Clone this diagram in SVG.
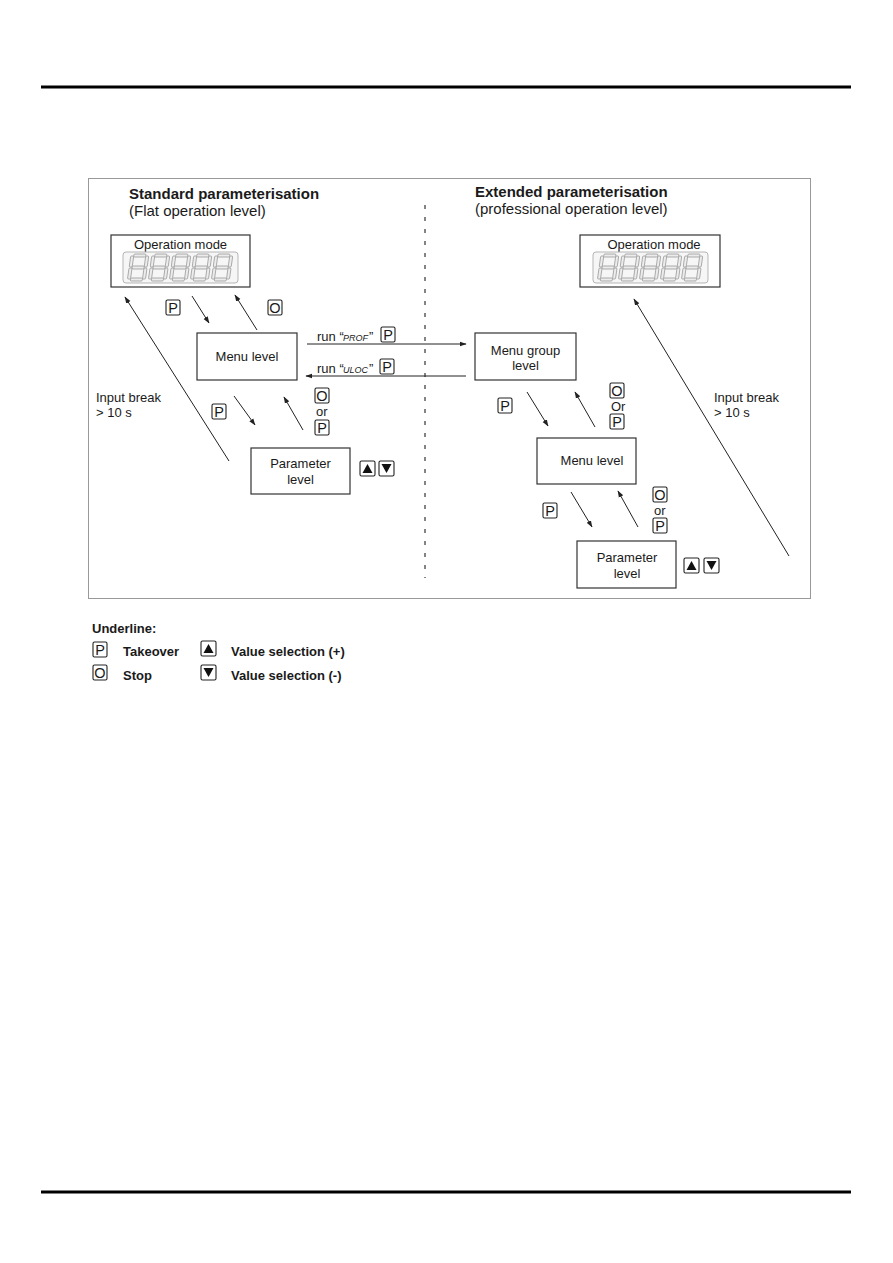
<svg xmlns="http://www.w3.org/2000/svg" width="893" height="1263" viewBox="0 0 893 1263">
<style>
.t{font-family:"Liberation Sans",Arial,sans-serif;fill:#1a1a1a}
.n{font-size:13px}
.h{font-size:15px}
.b{font-weight:bold}
.box{fill:#fff;stroke:#333;stroke-width:1.2}
.key{fill:#fff;stroke:#222;stroke-width:1.1}
.ln{stroke:#222;stroke-width:1;fill:none}
.seg{fill:#ececec;stroke:#9a9a9a;stroke-width:0.8}
.kt{font-size:14.5px}
.lcd{font-family:"Liberation Sans",Arial,sans-serif;font-style:italic;font-size:9px;fill:#1a1a1a}
</style>
<defs>
<marker id="ah" viewBox="0 0 10 10" refX="9" refY="5" markerWidth="7" markerHeight="7" orient="auto-start-reverse" markerUnits="userSpaceOnUse">
<path d="M0,1.5 L10,5 L0,8.5 z" fill="#222"/>
</marker>
<g id="digit" transform="skewX(-8)">
<rect class="seg" x="3" y="0" width="12" height="3" rx="1"/>
<rect class="seg" x="3" y="12" width="12" height="3" rx="1"/>
<rect class="seg" x="3" y="24" width="12" height="3" rx="1"/>
<rect class="seg" x="0" y="2" width="3" height="11" rx="1"/>
<rect class="seg" x="15" y="2" width="3" height="11" rx="1"/>
<rect class="seg" x="0" y="14" width="3" height="11" rx="1"/>
<rect class="seg" x="15" y="14" width="3" height="11" rx="1"/>
</g>
<g id="display">
<rect x="0" y="0" width="115" height="31" rx="3" fill="#f6f6f6" stroke="#b5b5b5"/>
<use href="#digit" x="8" y="2"/>
<use href="#digit" x="29" y="2"/>
<use href="#digit" x="50" y="2"/>
<use href="#digit" x="71" y="2"/>
<use href="#digit" x="92" y="2"/>
</g>
<g id="kP"><rect class="key" x="0" y="0" width="14" height="15" rx="1.5"/><text class="t kt" x="7" y="13" text-anchor="middle">P</text></g>
<g id="kO"><rect class="key" x="0" y="0" width="14" height="15" rx="1.5"/><text class="t kt" x="7" y="13" text-anchor="middle">O</text></g>
<g id="kUp"><rect class="key" x="0" y="0" width="15" height="15" rx="1.5"/><path d="M2.5,12 L7.5,3 L12.5,12 z" fill="#111"/></g>
<g id="kDn"><rect class="key" x="0" y="0" width="15" height="15" rx="1.5"/><path d="M2.5,3 L7.5,12 L12.5,3 z" fill="#111"/></g>
</defs>
<rect width="893" height="1263" fill="#fff"/>
<line x1="41" y1="87" x2="851" y2="87" stroke="#000" stroke-width="3"/>
<line x1="41" y1="1192" x2="851" y2="1192" stroke="#000" stroke-width="3"/>
<rect x="88.5" y="178.5" width="722" height="420" fill="none" stroke="#999" stroke-width="1"/>
<line x1="425" y1="205" x2="425" y2="578" stroke="#666" stroke-width="1.6" stroke-dasharray="4,8"/>

<g id="titles">
<text class="t h b" x="129" y="199">Standard parameterisation</text>
<text class="t h" x="129" y="216">(Flat operation level)</text>
<text class="t h b" x="475" y="197">Extended parameterisation</text>
<text class="t h" x="475" y="214">(professional operation level)</text>
</g>

<g id="op-left">
<rect class="box" x="111" y="235" width="139" height="52"/>
<text class="t n" x="180.5" y="249" text-anchor="middle">Operation mode</text>
<use href="#display" x="123" y="252"/>
</g>
<g id="op-right">
<rect class="box" x="580" y="235" width="140" height="52"/>
<text class="t n" x="654" y="249" text-anchor="middle">Operation mode</text>
<use href="#display" x="593" y="252"/>
</g>
<g id="menu-left">
<rect class="box" x="197" y="333" width="100" height="47"/>
<text class="t n" x="247" y="361" text-anchor="middle">Menu level</text>
</g>
<g id="param-left">
<rect class="box" x="251" y="448" width="99" height="46"/>
<text class="t n" x="300.5" y="468" text-anchor="middle">Parameter</text>
<text class="t n" x="300.5" y="484" text-anchor="middle">level</text>
</g>
<g id="menugroup">
<rect class="box" x="475" y="333" width="101" height="47"/>
<text class="t n" x="525.5" y="355" text-anchor="middle">Menu group</text>
<text class="t n" x="525.5" y="370" text-anchor="middle">level</text>
</g>
<g id="menu-right">
<rect class="box" x="537" y="438" width="99" height="46"/>
<text class="t n" x="592" y="465" text-anchor="middle">Menu level</text>
</g>
<g id="param-right">
<rect class="box" x="577" y="541" width="99" height="47"/>
<text class="t n" x="627" y="562" text-anchor="middle">Parameter</text>
<text class="t n" x="627" y="578" text-anchor="middle">level</text>
</g>

<g id="connectors">
<line class="ln" x1="229" y1="461" x2="125" y2="297" marker-end="url(#ah)"/>
<line class="ln" x1="192" y1="296" x2="209" y2="323" marker-end="url(#ah)"/>
<line class="ln" x1="257" y1="330" x2="235" y2="295" marker-end="url(#ah)"/>
<line class="ln" x1="234" y1="396" x2="255" y2="425" marker-end="url(#ah)"/>
<line class="ln" x1="303" y1="430" x2="284" y2="397" marker-end="url(#ah)"/>
<line class="ln" x1="307" y1="344" x2="466" y2="344" marker-end="url(#ah)"/>
<line class="ln" x1="466" y1="376" x2="306" y2="376" marker-end="url(#ah)"/>
<line class="ln" x1="527" y1="392" x2="548" y2="426" marker-end="url(#ah)"/>
<line class="ln" x1="595" y1="427" x2="575" y2="392" marker-end="url(#ah)"/>
<line class="ln" x1="571" y1="492" x2="592" y2="527" marker-end="url(#ah)"/>
<line class="ln" x1="638" y1="527" x2="618" y2="491" marker-end="url(#ah)"/>
<line class="ln" x1="789" y1="556" x2="634" y2="299" marker-end="url(#ah)"/>
</g>

<g id="labels">
<use href="#kP" x="166" y="300"/>
<use href="#kO" x="268" y="300"/>
<text class="t n" x="96" y="402">Input break</text>
<text class="t n" x="96" y="417">&gt; 10 s</text>
<use href="#kP" x="212" y="404"/>
<use href="#kO" x="315" y="388"/>
<text class="t n" x="316" y="416">or</text>
<use href="#kP" x="315" y="420"/>
<use href="#kUp" x="360" y="461"/>
<use href="#kDn" x="379" y="461"/>
<text class="t n" x="317" y="341">run “</text>
<text class="lcd" x="343" y="341">PROF</text>
<text class="t n" x="369" y="341">”</text>
<use href="#kP" x="381" y="327"/>
<text class="t n" x="317" y="373">run “</text>
<text class="lcd" x="343" y="373">ULOC</text>
<text class="t n" x="369" y="373">”</text>
<use href="#kP" x="380" y="359"/>
<use href="#kP" x="498" y="398"/>
<use href="#kO" x="610" y="383"/>
<text class="t n" x="611" y="411">Or</text>
<use href="#kP" x="610" y="414"/>
<text class="t n" x="714" y="402">Input break</text>
<text class="t n" x="714" y="417">&gt; 10 s</text>
<use href="#kP" x="543" y="503"/>
<use href="#kO" x="653" y="487"/>
<text class="t n" x="654" y="515">or</text>
<use href="#kP" x="653" y="518"/>
<use href="#kUp" x="684" y="558"/>
<use href="#kDn" x="704" y="558"/>
</g>

<g id="legend">
<text class="t b" font-size="13" x="92" y="633">Underline:</text>
<use href="#kP" x="93" y="642"/>
<text class="t b" font-size="13" x="123" y="656">Takeover</text>
<use href="#kUp" x="201" y="641"/>
<text class="t b" font-size="13" x="231" y="656">Value selection (+)</text>
<use href="#kO" x="93" y="665"/>
<text class="t b" font-size="13" x="123" y="680">Stop</text>
<use href="#kDn" x="201" y="665"/>
<text class="t b" font-size="13" x="231" y="680">Value selection (-)</text>
</g>
</svg>
